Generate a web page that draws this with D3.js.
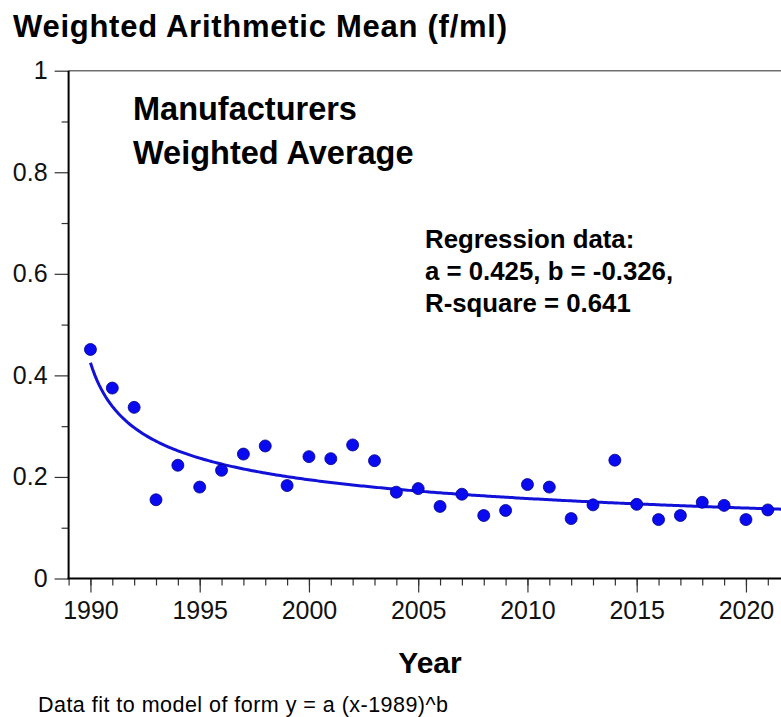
<!DOCTYPE html>
<html>
<head>
<meta charset="utf-8">
<script src="https://cdn.jsdelivr.net/npm/d3@7"></script>
<style>
  html, body { margin: 0; padding: 0; background: #fff; }
  svg { display: block; font-family: "Liberation Sans", Arial, sans-serif; }
</style>
</head>
<body>
<svg id="chart" width="781" height="717"></svg>
<script>
// Annual weighted arithmetic mean concentration (f/ml), manufacturers
const years = [1990, 1991, 1992, 1993, 1994, 1995, 1996, 1997, 1998, 1999,
               2000, 2001, 2002, 2003, 2004, 2005, 2006, 2007, 2008, 2009,
               2010, 2011, 2012, 2013, 2014, 2015, 2016, 2017, 2018, 2019,
               2020, 2021];
const means = [0.451, 0.375, 0.337, 0.155, 0.223, 0.180, 0.213, 0.245, 0.261, 0.183,
               0.240, 0.236, 0.263, 0.232, 0.170, 0.177, 0.142, 0.166, 0.124, 0.134,
               0.185, 0.180, 0.118, 0.145, 0.233, 0.146, 0.116, 0.124, 0.150, 0.144,
               0.116, 0.135];

// Power-model fit y = a (x - 1989)^b
const fitA = 0.425;
const fitB = -0.326;
const fitR2 = 0.641;
const fitOrigin = 1989;

const yMajorTicks = [0, 0.2, 0.4, 0.6, 0.8, 1];
const yMinorTicks = [0.1, 0.3, 0.5, 0.7, 0.9];
const xMajorTicks = [1990, 1995, 2000, 2005, 2010, 2015, 2020];

(function draw() {
  const svg = d3.select("#chart");
  svg.append("rect").attr("width", 781).attr("height", 717).attr("fill", "#fff");

  const x = d3.scaleLinear().domain([1989, 2022]).range([68.6, 68.6 + 33 * 21.85]);
  const y = d3.scaleLinear().domain([0, 1]).range([578.5, 70.7]);

  const plotLeft = x.range()[0];
  const plotBottom = y.range()[0];
  const plotTop = y.range()[1];

  // top frame line
  svg.append("line")
    .attr("x1", plotLeft).attr("x2", 781)
    .attr("y1", plotTop).attr("y2", plotTop)
    .attr("stroke", "#6e6e6e").attr("stroke-width", 1.5);

  // y axis: minor ticks, then major ticks with labels
  const yMinor = svg.append("g").attr("transform", `translate(${plotLeft},0)`)
    .call(d3.axisLeft(y).tickValues(yMinorTicks).tickSize(7).tickFormat(""));
  yMinor.select(".domain").remove();
  yMinor.selectAll(".tick line").attr("stroke", "#333").attr("stroke-width", 1.2);

  const yAxis = svg.append("g").attr("transform", `translate(${plotLeft},0)`)
    .call(d3.axisLeft(y).tickValues(yMajorTicks).tickSize(14).tickPadding(7)
          .tickFormat(d => d3.format("~g")(d)));
  yAxis.select(".domain").remove();
  yAxis.selectAll(".tick line").attr("stroke", "#333").attr("stroke-width", 1.2);
  yAxis.selectAll(".tick text")
    .attr("fill", "#111").attr("font-size", 25).attr("font-family", "Liberation Sans, Arial, sans-serif");

  // x axis: minor ticks every year, major every five years
  const xMinor = svg.append("g").attr("transform", `translate(0,${plotBottom})`)
    .call(d3.axisBottom(x).tickValues(d3.range(1989, 2023)).tickSize(7).tickFormat(""));
  xMinor.select(".domain").remove();
  xMinor.selectAll(".tick line").attr("stroke", "#333").attr("stroke-width", 1.2);

  const xAxis = svg.append("g").attr("transform", `translate(0,${plotBottom})`)
    .call(d3.axisBottom(x).tickValues(xMajorTicks).tickSize(14).tickPadding(9)
          .tickFormat(d3.format("d")));
  xAxis.select(".domain").remove();
  xAxis.selectAll(".tick line").attr("stroke", "#333").attr("stroke-width", 1.2);
  xAxis.selectAll(".tick text")
    .attr("fill", "#111").attr("font-size", 25).attr("font-family", "Liberation Sans, Arial, sans-serif");

  // axis spines
  svg.append("line").attr("x1", plotLeft).attr("x2", plotLeft).attr("y1", plotTop).attr("y2", plotBottom)
    .attr("stroke", "#000").attr("stroke-width", 2);
  svg.append("line").attr("x1", plotLeft - 1).attr("x2", 781).attr("y1", plotBottom).attr("y2", plotBottom)
    .attr("stroke", "#000").attr("stroke-width", 2);

  // fitted curve
  const fitYears = d3.range(1990, 2022.01, 0.1);
  const line = d3.line()
    .x(d => x(d))
    .y(d => y(fitA * Math.pow(d - fitOrigin, fitB)));
  svg.append("path")
    .datum(fitYears)
    .attr("d", line)
    .attr("fill", "none")
    .attr("stroke", "#1111d8")
    .attr("stroke-width", 3);

  // data points
  svg.append("g").selectAll("circle")
    .data(years.map((yr, i) => ({ yr, v: means[i] })))
    .join("circle")
    .attr("cx", d => x(d.yr))
    .attr("cy", d => y(d.v))
    .attr("r", 6)
    .attr("fill", "#0a0af0")
    .attr("stroke", "#00008c")
    .attr("stroke-width", 0.8);

  // titles and annotations
  svg.append("text").attr("x", 13).attr("y", 37)
    .attr("font-size", 31).attr("font-weight", "bold").attr("fill", "#000")
    .attr("textLength", 494).attr("lengthAdjust", "spacing")
    .text("Weighted Arithmetic Mean (f/ml)");

  svg.append("text").attr("x", 133).attr("y", 120)
    .attr("font-size", 32.5).attr("font-weight", "bold").attr("fill", "#000")
    .text("Manufacturers");
  svg.append("text").attr("x", 133).attr("y", 164)
    .attr("font-size", 32.5).attr("font-weight", "bold").attr("fill", "#000")
    .text("Weighted Average");

  const regLines = [
    "Regression data:",
    `a = ${fitA.toFixed(3)}, b = ${fitB.toFixed(3)},`,
    `R-square = ${fitR2.toFixed(3)}`
  ];
  svg.append("g").selectAll("text")
    .data(regLines)
    .join("text")
    .attr("x", 425)
    .attr("y", (d, i) => 248 + i * 32)
    .attr("font-size", 25.8).attr("font-weight", "bold").attr("fill", "#000")
    .text(d => d);

  svg.append("text").attr("x", 430).attr("y", 673)
    .attr("text-anchor", "middle")
    .attr("font-size", 30).attr("font-weight", "bold").attr("fill", "#000")
    .text("Year");

  svg.append("text").attr("x", 38).attr("y", 712)
    .attr("font-size", 21.5).attr("fill", "#000")
    .attr("textLength", 410).attr("lengthAdjust", "spacing")
    .text(`Data fit to model of form y = a (x-${fitOrigin})^b`);
})();
</script>
</body>
</html>
